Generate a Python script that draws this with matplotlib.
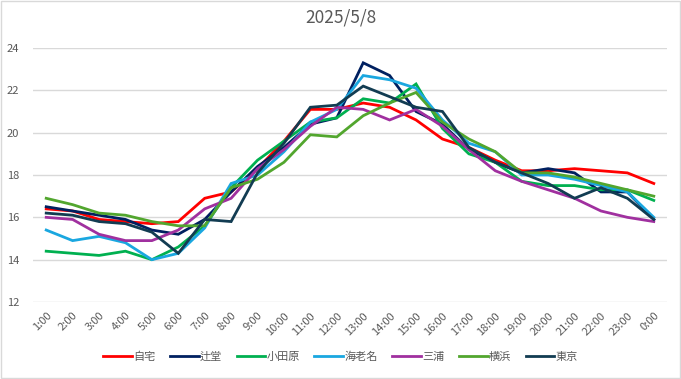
import matplotlib
matplotlib.use("Agg")
import matplotlib.pyplot as plt
from matplotlib.patches import Rectangle

plt.rcParams['font.family'] = ['Noto Sans CJK JP', 'DejaVu Sans']

hours = ["1:00", "2:00", "3:00", "4:00", "5:00", "6:00", "7:00", "8:00", "9:00", "10:00",
         "11:00", "12:00", "13:00", "14:00", "15:00", "16:00", "17:00", "18:00", "19:00",
         "20:00", "21:00", "22:00", "23:00", "0:00"]

jitaku = [16.4, 16.3, 15.9, 15.8, 15.7, 15.8, 16.9, 17.2, 18.3, 19.6, 21.1, 21.1,
          21.4, 21.2, 20.6, 19.7, 19.3, 18.7, 18.2, 18.2, 18.3, 18.2, 18.1, 17.6]
tsujido = [16.5, 16.3, 16.1, 15.9, 15.4, 15.2, 15.9, 17.2, 18.4, 19.3, 20.4, 20.7,
           23.3, 22.7, 21.0, 20.4, 19.2, 18.6, 18.1, 18.3, 18.1, 17.2, 17.2, 15.9]
odawara = [14.4, 14.3, 14.2, 14.4, 14.0, 14.6, 15.6, 17.4, 18.7, 19.6, 20.5, 20.7,
           21.6, 21.4, 22.3, 20.2, 19.0, 18.6, 17.7, 17.5, 17.5, 17.3, 17.3, 16.8]
ebina = [15.4, 14.9, 15.1, 14.8, 14.0, 14.3, 15.5, 17.6, 18.0, 19.1, 20.5, 21.1,
         22.7, 22.5, 22.1, 20.6, 19.5, 19.1, 18.0, 18.0, 17.8, 17.5, 17.2, 16.0]
miura = [16.0, 15.9, 15.2, 14.9, 14.9, 15.4, 16.4, 16.9, 18.3, 19.2, 20.3, 21.2,
         21.1, 20.6, 21.1, 20.3, 19.2, 18.2, 17.7, 17.3, 16.9, 16.3, 16.0, 15.8]
yokohama = [16.9, 16.6, 16.2, 16.1, 15.8, 15.6, 15.6, 17.4, 17.8, 18.6, 19.9, 19.8,
            20.8, 21.4, 21.9, 20.5, 19.7, 19.1, 18.1, 18.1, 17.9, 17.6, 17.3, 17.0]
tokyo = [16.2, 16.1, 15.8, 15.7, 15.3, 14.3, 15.9, 15.8, 18.1, 19.5, 21.2, 21.3,
         22.2, 21.7, 21.2, 21.0, 19.3, 18.6, 18.1, 17.6, 16.9, 17.4, 16.9, 15.9]

series_names = ["自宅", "辻堂", "小田原", "海老名", "三浦", "横浜", "東京"]
series_values = [jitaku, tsujido, odawara, ebina, miura, yokohama, tokyo]
colors = ["#FF0000", "#002060", "#00B050", "#1AA7E0", "#A0309F", "#52A62E", "#123C52"]

fig = plt.figure(figsize=(6.81, 3.79), dpi=100)
ax = fig.add_axes([33 / 681, 1 - 302 / 379, (667 - 33) / 681, (302 - 48) / 379])

x = list(range(len(hours)))
for name, vals, c in zip(series_names, series_values, colors):
    ax.plot(x, vals, color=c, lw=2.0, label=name, solid_joinstyle='miter')

ax.set_xlim(-0.5, len(hours) - 0.5)
ax.set_ylim(12, 24)
ax.set_yticks(range(12, 25, 2))
ax.set_xticks(x)
ax.set_xticklabels(hours, rotation=45, ha='right', rotation_mode='anchor')
ax.grid(axis='y', color='#D9D9D9', lw=1.0)
ax.set_axisbelow(True)
for s in ax.spines.values():
    s.set_visible(False)
ax.tick_params(axis='both', length=0, labelsize=8, labelcolor='#595959')
ax.tick_params(axis='x', pad=6)
ax.tick_params(axis='y', pad=10)

fig.text(0.5, 1 - 18 / 379, "2025/5/8", ha='center', va='center', fontsize=12.5, color='#595959')

leg = fig.legend(loc='center', bbox_to_anchor=(0.5, 1 - 357 / 379), ncol=7, frameon=False,
                 fontsize=8, handlelength=2.6, handletextpad=0.1, columnspacing=1.3)
for t in leg.get_texts():
    t.set_color('#595959')

fig.patches.append(Rectangle((0.001, 0.002), 0.997, 0.995, transform=fig.transFigure,
                             fill=False, edgecolor='#D9D9D9', lw=1.0))

fig.savefig("out.png", dpi=100)
